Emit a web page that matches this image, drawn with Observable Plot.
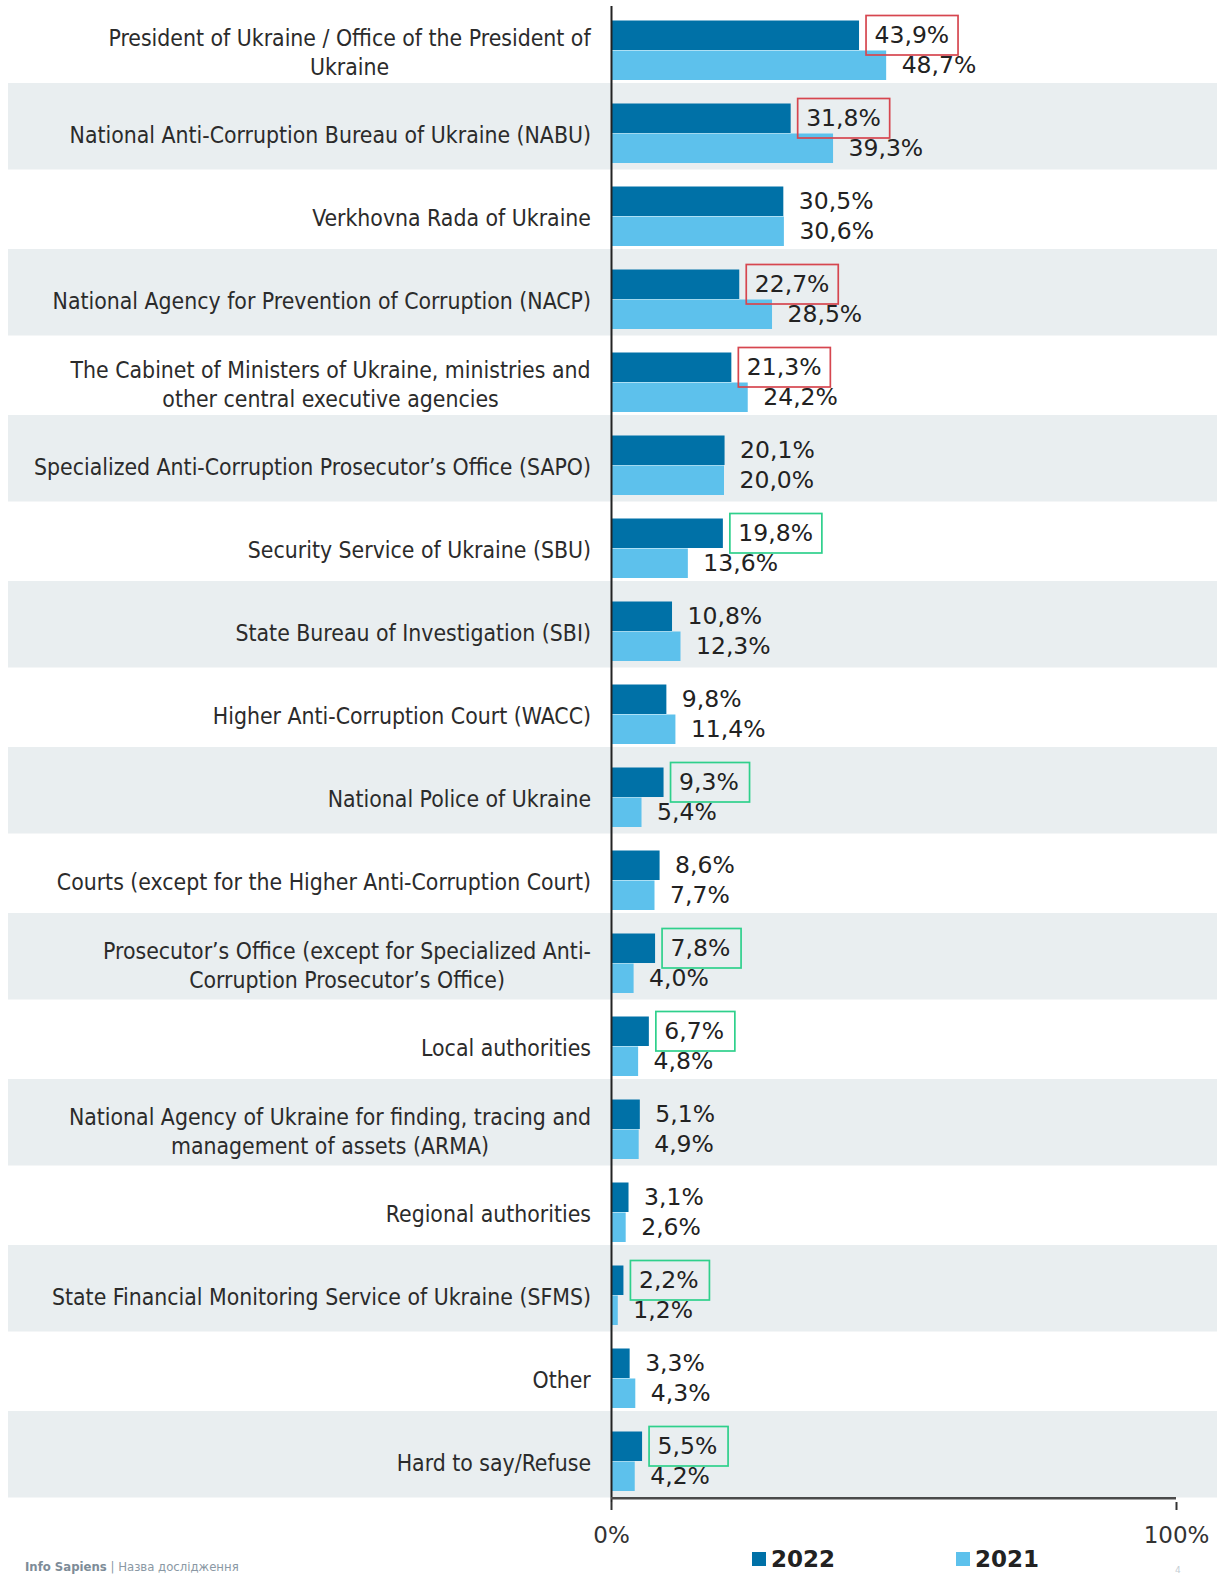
<!DOCTYPE html>
<html><head><meta charset="utf-8">
<script src="https://cdn.jsdelivr.net/npm/d3@7"></script>
<script src="https://cdn.jsdelivr.net/npm/@observablehq/plot@0.6"></script>
<style>
body{margin:0;background:#fff;width:1222px;height:1574px;overflow:hidden;font-family:"DejaVu Sans",sans-serif;}
#chart svg{display:block;}
#bottom{position:relative;height:22px;width:1222px;}
.foot{position:absolute;left:25px;top:7px;font-size:13px;color:#8a98a4;font-family:"DejaVu Sans Condensed","DejaVu Sans",sans-serif;white-space:nowrap;}
.foot b{color:#7d8c98;}
.leg{position:absolute;top:-4px;height:22px;display:flex;align-items:center;}
.sw{width:14px;height:14px;display:inline-block;margin-right:5px;}
.leg b{font-size:23px;color:#222;font-family:"DejaVu Sans",sans-serif;}
.pg{position:absolute;left:1175px;top:13px;font-size:9px;color:#c5ced4;}
</style></head><body>
<div id="chart"></div>
<div id="bottom"></div>
<script>
const categories = [
  "President of Ukraine / Office of the President of\nUkraine",
  "National Anti-Corruption Bureau of Ukraine (NABU)",
  "Verkhovna Rada of Ukraine",
  "National Agency for Prevention of Corruption (NACP)",
  "The Cabinet of Ministers of Ukraine, ministries and\nother central executive agencies",
  "Specialized Anti-Corruption Prosecutor\u2019s Office (SAPO)",
  "Security Service of Ukraine (SBU)",
  "State Bureau of Investigation (SBI)",
  "Higher Anti-Corruption Court (WACC)",
  "National Police of Ukraine",
  "Courts (except for the Higher Anti-Corruption Court)",
  "Prosecutor\u2019s Office (except for Specialized Anti-\nCorruption Prosecutor\u2019s Office)",
  "Local authorities",
  "National Agency of Ukraine for finding, tracing and\nmanagement of assets (ARMA)",
  "Regional authorities",
  "State Financial Monitoring Service of Ukraine (SFMS)",
  "Other",
  "Hard to say/Refuse"
];
const values2022 = [43.9, 31.8, 30.5, 22.7, 21.3, 20.1, 19.8, 10.8, 9.8, 9.3, 8.6, 7.8, 6.7, 5.1, 3.1, 2.2, 3.3, 5.5];
const values2021 = [48.7, 39.3, 30.6, 28.5, 24.2, 20.0, 13.6, 12.3, 11.4, 5.4, 7.7, 4.0, 4.8, 4.9, 2.6, 1.2, 4.3, 4.2];
// change marker for 2022 value: "down" = red box, "up" = green box
const change2022 = ["down","down","","down","down","","up","","","up","","up","up","","","up","","up"];
const seriesNames = ["2022", "2021"];
const seriesColors = ["#0071a7", "#5dc1ec"];
const xTicks = [0, 100];

const rows = categories.map((c, i) => ({
  cat: c, v22: values2022[i], v21: values2021[i], chg: change2022[i], shaded: i % 2 === 1
}));
const fmt = v => v.toFixed(1).replace(".", ",") + "%";
const yTop = -4.5, yBottom = 1498.5;
const bw = (yBottom - yTop) / categories.length;
const wide = d => fmt(d.v22).length > 4;
const H = 1552, MB = 50;
const ext = (H - MB) - yBottom;

const chart = Plot.plot({
  width: 1222,
  height: H,
  marginLeft: 8,
  marginRight: 5,
  marginTop: 6,
  marginBottom: MB,
  style: {fontFamily: "DejaVu Sans, sans-serif", fontSize: "23px", color: "#333", background: "#fff"},
  x: {domain: [0, 100], range: [611, 1176], axis: null},
  y: {domain: categories, range: [yTop, yBottom], padding: 0, axis: null},
  marks: [
    Plot.cell(rows.filter(d => d.shaded), {y: "cat", fill: "#e9eef0", insetBottom: -ext}),
    Plot.barX(rows, {y: "cat", x: "v22", fill: seriesColors[0], insetTop: 20.5, insetBottom: 33}),
    Plot.barX(rows, {y: "cat", x: "v21", fill: seriesColors[1], insetTop: 50.5, insetBottom: 3}),
    Plot.ruleX([0], {stroke: "#222", strokeWidth: 2}),
    Plot.ruleY([categories[categories.length - 1]], {x1: 0, x2: 100, stroke: "#4a4a4a", strokeWidth: 2.5, dy: bw / 2 + ext}),
    Plot.barX(rows.filter(d => d.chg === "down"), {y: "cat", x1: "v22", x2: "v22", insetLeft: 7, insetRight: -99, insetTop: 15.5, insetBottom: bw - 55.5, fill: "none", stroke: "#d6464f", strokeWidth: 1.7}),
    Plot.barX(rows.filter(d => d.chg === "up" && wide(d)), {y: "cat", x1: "v22", x2: "v22", insetLeft: 7, insetRight: -99, insetTop: 15.5, insetBottom: bw - 55.5, fill: "none", stroke: "#2fd08c", strokeWidth: 1.7}),
    Plot.barX(rows.filter(d => d.chg === "up" && !wide(d)), {y: "cat", x1: "v22", x2: "v22", insetLeft: 7, insetRight: -86, insetTop: 15.5, insetBottom: bw - 55.5, fill: "none", stroke: "#2fd08c", strokeWidth: 1.7}),
    Plot.text(rows, {y: "cat", x: "v22", text: d => fmt(d.v22), textAnchor: "start", dx: 15, dy: 35 - bw / 2, fontSize: 23.5, fill: "#222"}),
    Plot.text(rows, {y: "cat", x: "v21", text: d => fmt(d.v21), textAnchor: "start", dx: 15, dy: 65.5 - bw / 2, fontSize: 23.5, fill: "#222"}),
    Plot.text(rows, {y: "cat", text: "cat", frameAnchor: "left", dx: 582.5, dy: 51 - bw / 2, textAnchor: "end", lineHeight: 1.25, fontSize: 22.8, fill: "#2b2b2b", fontFamily: "DejaVu Sans Condensed, DejaVu Sans, sans-serif", fontStretch: "condensed", ariaDescription: "catlabels"}),
    Plot.axisX({ticks: xTicks, tickFormat: d => d + "%", tickSize: 8, tickPadding: 16, stroke: "#333", strokeWidth: 2, fill: "#333", fontSize: 23})
  ]
});
document.getElementById("chart").appendChild(chart);

// center-align the lines of multi-line category labels, keeping their right edge
const lab = chart.querySelector('g[aria-description="catlabels"]');
if (lab) {
  lab.querySelectorAll("text").forEach(t => {
    const w = t.getBBox().width;
    t.setAttribute("text-anchor", "middle");
    t.setAttribute("transform", (t.getAttribute("transform") || "") + ` translate(${-w / 2},0)`);
  });
}

// legend and footer below the SVG
const bottom = document.getElementById("bottom");
const foot = document.createElement("span");
foot.className = "foot";
foot.innerHTML = "<b>Info Sapiens</b> | Назва дослідження";
bottom.appendChild(foot);
const legX = [752, 956];
seriesNames.forEach((s, i) => {
  const d = document.createElement("div");
  d.className = "leg";
  d.style.left = legX[i] + "px";
  d.innerHTML = `<span class="sw" style="background:${seriesColors[i]}"></span><b>${s}</b>`;
  bottom.appendChild(d);
});
const pg = document.createElement("span");
pg.className = "pg";
pg.textContent = "4";
bottom.appendChild(pg);
</script>
</body></html>
